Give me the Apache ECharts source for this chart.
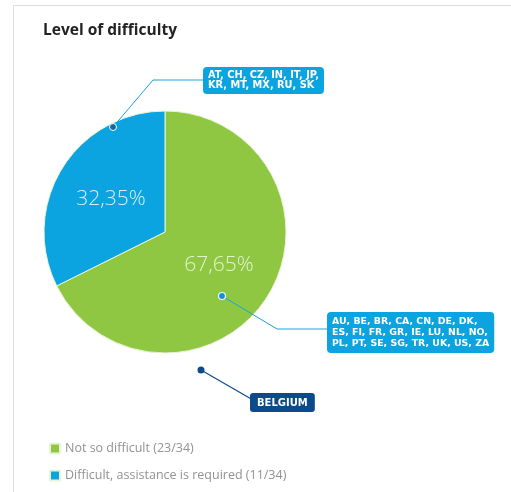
<!DOCTYPE html>
<html>
<head>
<meta charset="utf-8">
<script src="https://cdn.jsdelivr.net/npm/echarts@6/dist/echarts.min.js"></script>
<style>
html,body{margin:0;padding:0;background:#fff;}
#c{width:511px;height:492px;}
</style>
</head>
<body>
<div id="c"></div>
<script>
const title = 'Level of difficulty';
const categories = ['Not so difficult', 'Difficult, assistance is required'];
const counts = [23, 11];
const groupEasy = ['AU', 'BE', 'BR', 'CA', 'CN', 'DE', 'DK', 'ES', 'FI', 'FR', 'GR', 'IE', 'LU', 'NL', 'NO', 'PL', 'PT', 'SE', 'SG', 'TR', 'UK', 'US', 'ZA'];
const groupHard = ['AT', 'CH', 'CZ', 'IN', 'IT', 'JP', 'KR', 'MT', 'MX', 'RU', 'SK'];
const highlight = 'BELGIUM';

const total = counts.reduce((a, b) => a + b, 0);
const colors = ['#8fc743', '#0ba4e1'];
const navy = '#0b4a8b';
const FONT = '"Open Sans", "Noto Sans", sans-serif';
const WIDE = '"DejaVu Sans", "Open Sans", sans-serif';

function wrap(list, sizes) {
  const lines = [];
  let i = 0;
  sizes.forEach(n => {
    const part = list.slice(i, i + n);
    i += n;
    lines.push(part.join(', ') + (i < list.length ? ',' : ''));
  });
  return lines.join('\n');
}

const legendNames = categories.map((c, i) => c + ' (' + counts[i] + '/' + total + ')');

const chart = echarts.init(document.getElementById('c'), null, {renderer: 'canvas'});
chart.setOption({
  animation: false,
  backgroundColor: '#fff',
  title: {
    text: title, left: 38, top: 18,
    textStyle: {fontFamily: FONT, fontSize: 15.5, fontWeight: 'bold', color: '#222'}
  },
  legend: {
    orient: 'vertical', left: 49, top: 442, padding: 0,
    icon: 'rect', itemWidth: 10, itemHeight: 10, itemGap: 14,
    textStyle: {fontFamily: FONT, fontSize: 12.5, color: '#929292'},
    data: legendNames
  },
  color: colors,
  series: [{
    type: 'pie',
    center: [165, 232],
    radius: [0, 121],
    startAngle: 90,
    clockwise: true,
    silent: true,
    itemStyle: {borderColor: '#e8f4d8', borderWidth: 1},
    label: {
      show: true, position: 'inside',
      fontFamily: FONT, fontSize: 21, fontWeight: 300,
      formatter: p => p.percent.toFixed(2).replace('.', ',') + '%'
    },
    labelLine: {show: false},
    data: categories.map((c, i) => ({
      name: legendNames[i], value: counts[i],
      label: {color: i === 0 ? '#e4f2cf' : '#d7f0fb'}
    }))
  }],
  graphic: [
    {type: 'rect', silent: true, z: -1, shape: {x: 13.5, y: 5.5, width: 520, height: 520},
     style: {fill: 'none', stroke: '#dcdcdc', lineWidth: 1}},
    // hard group callout
    {type: 'polyline', z: 100, shape: {points: [[113, 127], [153, 80], [204, 80]]},
     style: {stroke: '#1aa3dc', lineWidth: 1, fill: 'none'}},
    {type: 'circle', z: 101, shape: {cx: 113, cy: 127, r: 3.5},
     style: {fill: '#0d6aa6', stroke: '#ffffff', lineWidth: 1}},
    {type: 'text', z: 100, x: 203, y: 67,
     style: {text: wrap(groupHard, [6, 5]), fill: '#fff', font: 'bold 9.8px ' + WIDE,
       backgroundColor: colors[1], padding: [3, 5, 3, 5], borderRadius: 4, lineHeight: 10.5}},
    // easy group callout
    {type: 'polyline', z: 100, shape: {points: [[222, 296], [277, 329], [328, 329]]},
     style: {stroke: '#1aa3dc', lineWidth: 1, fill: 'none'}},
    {type: 'circle', z: 101, shape: {cx: 222, cy: 296, r: 3.5},
     style: {fill: '#1a8fd0', stroke: '#e8f7ff', lineWidth: 1.2}},
    {type: 'text', z: 100, x: 327, y: 312,
     style: {text: wrap(groupEasy, [7, 8, 8]), fill: '#fff', font: 'bold 9.4px ' + WIDE,
       backgroundColor: colors[1], padding: [4, 5, 4, 5], borderRadius: 4, lineHeight: 11}},
    // Belgium marker
    {type: 'line', z: 100, shape: {x1: 201, y1: 370, x2: 253, y2: 400},
     style: {stroke: navy, lineWidth: 1.2}},
    {type: 'circle', z: 101, shape: {cx: 201, cy: 370, r: 3.5}, style: {fill: navy}},
    {type: 'text', z: 100, x: 250, y: 393,
     style: {text: highlight, fill: '#fff', font: 'bold 10px ' + WIDE,
       backgroundColor: navy, padding: [5, 7, 4, 7], borderRadius: 3}}
  ]
});
</script>
</body>
</html>
